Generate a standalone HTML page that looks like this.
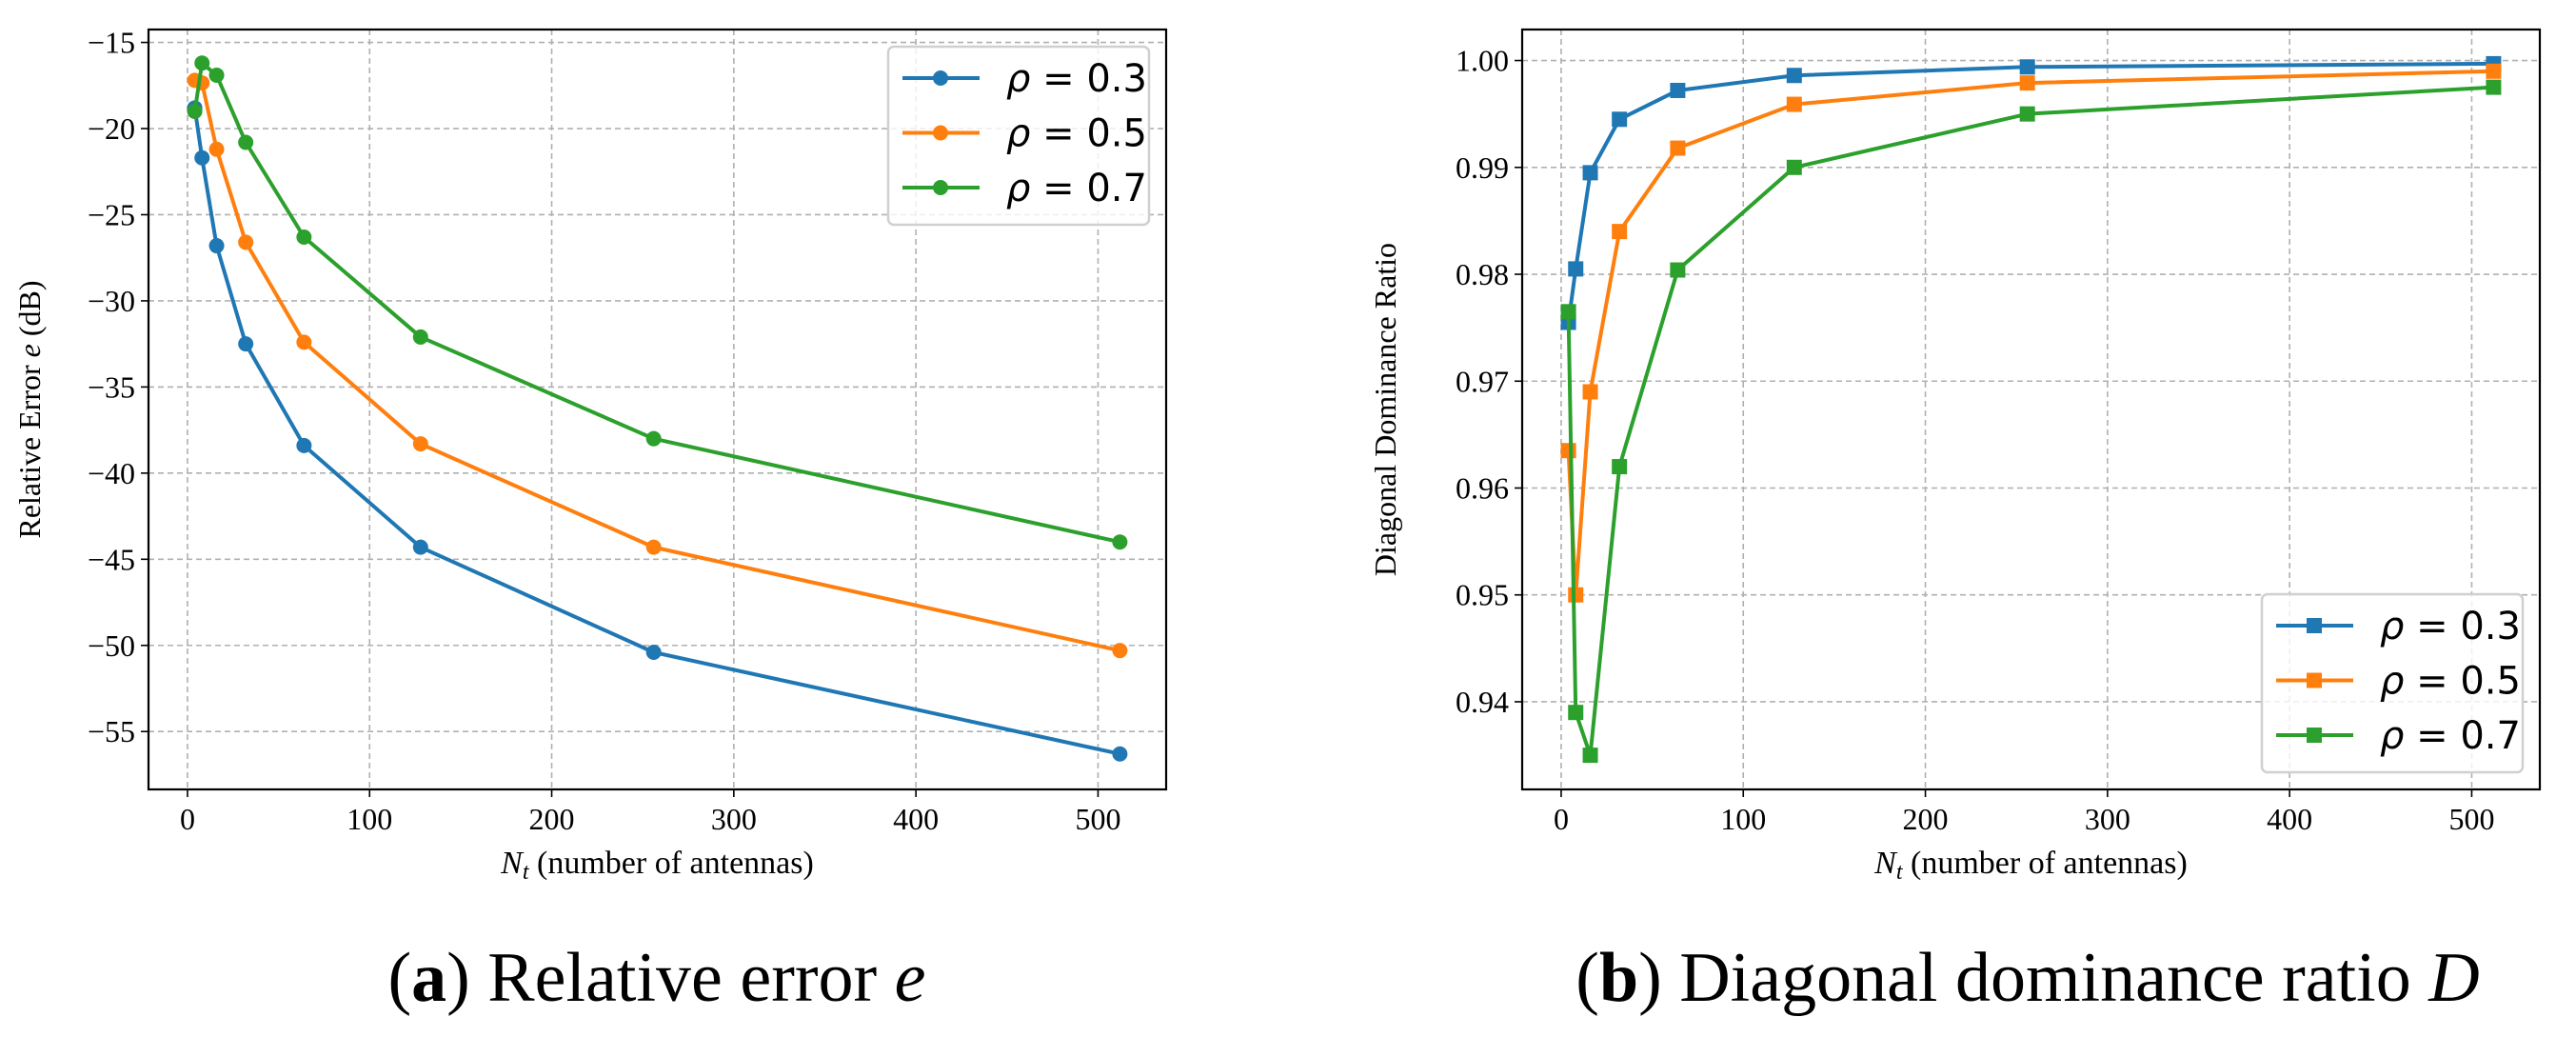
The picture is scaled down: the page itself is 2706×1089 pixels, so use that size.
<!DOCTYPE html>
<html><head><meta charset="utf-8"><style>
html,body{margin:0;padding:0;background:#fff;}
svg{display:block;}
text{font-family:"Liberation Serif",serif;fill:#000;}
.leg{font-family:"DejaVu Sans","Liberation Sans",sans-serif;}
</style></head><body>
<svg id="fig" width="2706" height="1089" viewBox="0 0 2706 1089" xmlns="http://www.w3.org/2000/svg"></svg>
<script>
const xs = [4, 8, 16, 32, 64, 128, 256, 512];
const errBlue = [-18.8, -21.7, -26.8, -32.5, -38.4, -44.3, -50.4, -56.3];
const errOrange = [-17.2, -17.35, -21.2, -26.6, -32.4, -38.3, -44.3, -50.3];
const errGreen = [-19.0, -16.2, -16.9, -20.8, -26.3, -32.1, -38.0, -44.0];
const domBlue = [0.9755, 0.9805, 0.9895, 0.9945, 0.9972, 0.9986, 0.9994, 0.9997];
const domOrange = [0.9635, 0.950, 0.969, 0.984, 0.9918, 0.9959, 0.9979, 0.999];
const domGreen = [0.9765, 0.939, 0.935, 0.962, 0.9804, 0.990, 0.995, 0.9975];
const xTicks = [0, 100, 200, 300, 400, 500];
const errTicks = [-15, -20, -25, -30, -35, -40, -45, -50, -55];
const domTicks = [1.00, 0.99, 0.98, 0.97, 0.96, 0.95, 0.94];
const seriesLabels = ['0.3', '0.5', '0.7'];
const colors = ['#1f77b4', '#ff7f0e', '#2ca02c'];

const NS = 'http://www.w3.org/2000/svg';
const svg = document.getElementById('fig');
function mk(tag, attrs, parent) {
  const e = document.createElementNS(NS, tag);
  for (const k in attrs) e.setAttribute(k, attrs[k]);
  (parent || svg).appendChild(e);
  return e;
}

function panel(cfg) {
  const g = mk('g', {});
  
  
  const L = cfg.left, R = cfg.right, T = cfg.top, B = cfg.bottom;
  const sx = v => L + (v - cfg.xmin) / (cfg.xmax - cfg.xmin) * (R - L);
  const sy = v => B - (v - cfg.ymin) / (cfg.ymax - cfg.ymin) * (B - T);
  // grid
  xTicks.forEach(t => {
    const x = sx(t);
    const gl = mk('line', {x1: x, x2: x, y1: T, y2: B, stroke: '#b0b0b0', 'stroke-width': 1.6, 'stroke-dasharray': '6,4'}, g);
    
    
    const tk = mk('line', {x1: x, x2: x, y1: B, y2: B + 8, stroke: '#000', 'stroke-width': 1.6}, g);
    
    
    const tl = mk('text', {x: x, y: B + 42, 'font-size': 32, 'text-anchor': 'middle'}, g);
    
    
    tl.textContent = String(t);
  });
  cfg.yticks.forEach(t => {
    const y = sy(t);
    const gl = mk('line', {x1: L, x2: R, y1: y, y2: y, stroke: '#b0b0b0', 'stroke-width': 1.6, 'stroke-dasharray': '6,4'}, g);
    
    
    const tk = mk('line', {x1: L - 8, x2: L, y1: y, y2: y, stroke: '#000', 'stroke-width': 1.6}, g);
    
    
    const tl = mk('text', {x: L - 14, y: y + 11, 'font-size': 32, 'text-anchor': 'end'}, g);
    
    
    tl.textContent = cfg.fmt(t);
  });
  // series
  cfg.series.forEach((vals, i) => {
    const pts = vals.map((v, j) => sx(xs[j]) + ',' + sy(v)).join(' ');
    const pl = mk('polyline', {points: pts, fill: 'none', stroke: colors[i], 'stroke-width': 4, 'stroke-linejoin': 'round'}, g);
    
    
    vals.forEach((v, j) => {
      let m;
      if (cfg.square) m = mk('rect', {x: sx(xs[j]) - 8, y: sy(v) - 8, width: 16, height: 16, fill: colors[i]}, g);
      else m = mk('circle', {cx: sx(xs[j]), cy: sy(v), r: 8, fill: colors[i]}, g);
      
      
    });
  });
  const fr = mk('rect', {x: L, y: T, width: R - L, height: B - T, fill: 'none', stroke: '#000', 'stroke-width': 2.2}, g);
  
  
  // labels
  const xl = mk('text', {x: (L + R) / 2, y: B + 88, 'font-size': 34, 'text-anchor': 'middle'}, g);
  
  
  xl.innerHTML = '<tspan font-style="italic">N</tspan><tspan font-style="italic" font-size="24" dy="6">t</tspan><tspan dy="-6"> (number of antennas)</tspan>';
  const yl = mk('text', {x: 0, y: 0, 'font-size': 32, 'text-anchor': 'middle', transform: 'translate(' + cfg.ylx + ',' + ((T + B) / 2) + ') rotate(-90)'}, g);
  
  
  yl.innerHTML = cfg.ylabel;
  // legend
  const lg = mk('g', {}, g);
  
  
  const lb = mk('rect', {x: cfg.lx, y: cfg.ly, width: 274, height: 187, rx: 6, fill: '#fff', 'fill-opacity': 0.8, stroke: '#d0d0d0', 'stroke-width': 2.5}, lg);
  
  
  seriesLabels.forEach((s, i) => {
    const yy = cfg.ly + 33 + i * 57.5;
    const ll = mk('line', {x1: cfg.lx + 15, x2: cfg.lx + 96, y1: yy, y2: yy, stroke: colors[i], 'stroke-width': 4}, lg);
    
    
    let m;
    if (cfg.square) m = mk('rect', {x: cfg.lx + 47, y: yy - 8, width: 16, height: 16, fill: colors[i]}, lg);
    else m = mk('circle', {cx: cfg.lx + 55, cy: yy, r: 8, fill: colors[i]}, lg);
    
    
    const t = mk('text', {x: cfg.lx + 124, y: yy + 14, 'font-size': 40, class: 'leg'}, lg);
    
    
    t.innerHTML = '<tspan font-style="italic">ρ</tspan> = ' + s;
  });
  const cap = mk('text', {x: cfg.capx, y: 1051, 'font-size': 74, 'text-anchor': 'middle'}, g);
  
  
  cap.innerHTML = cfg.caption;
}

panel({name: 'relative-error-chart', left: 156, right: 1225, top: 31, bottom: 829,
  xmin: -21.4, xmax: 537.4, ymin: -58.36, ymax: -14.25, yticks: errTicks,
  fmt: t => '\u2212' + Math.abs(t), series: [errBlue, errOrange, errGreen], square: false,
  ylx: 42, ylabel: 'Relative Error <tspan font-style="italic">e</tspan> (dB)',
  lx: 933, ly: 49, capx: 690,
  caption: '(<tspan font-weight="bold">a</tspan>) Relative error <tspan font-style="italic">e</tspan>'});
panel({name: 'diagonal-dominance-chart', left: 1599, right: 2668, top: 31, bottom: 829,
  xmin: -21.4, xmax: 537.4, ymin: 0.9318, ymax: 1.0029, yticks: domTicks,
  fmt: t => t.toFixed(2), series: [domBlue, domOrange, domGreen], square: true,
  ylx: 1466, ylabel: 'Diagonal Dominance Ratio',
  lx: 2376, ly: 624, capx: 2130,
  caption: '(<tspan font-weight="bold">b</tspan>) Diagonal dominance ratio <tspan font-style="italic">D</tspan>'});
</script>
</body></html>
